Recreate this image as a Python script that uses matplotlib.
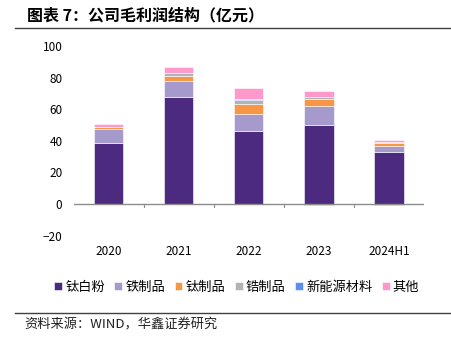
import numpy as np
import matplotlib
matplotlib.use('Agg')
import matplotlib.pyplot as plt

plt.rcParams['font.family'] = ['Noto Sans CJK SC', 'DejaVu Sans']
plt.rcParams['axes.unicode_minus'] = True

# data (亿元)
years = ['2020', '2021', '2022', '2023', '2024H1']
tio2 = [38.6, 67.5, 46.0, 50.0, 32.9]
iron = [8.9, 10.1, 11.0, 12.2, 4.0]
ti_prod = [1.0, 3.2, 6.1, 4.4, 1.7]
zr_prod = [0.3, 1.9, 2.7, 1.3, 0.8]
new_energy = [0.0, 0.0, 0.7, -0.8, -0.6]
other = [1.6, 4.2, 6.7, 3.8, 0.8]

series = [
    ('钛白粉', tio2, '#4B2A7F'),
    ('铁制品', iron, '#A699CC'),
    ('钛制品', ti_prod, '#F79646'),
    ('锆制品', zr_prod, '#B3B3B3'),
    ('新能源材料', new_energy, '#5B8FF0'),
    ('其他', other, '#FF99CC'),
]

fig = plt.figure(figsize=(4.51, 3.40), dpi=100)
ax = fig.add_axes([0.163, 0.307, 0.777, 0.558])

x = np.arange(len(years))
pos_bottom = np.zeros(len(years))
neg_bottom = np.zeros(len(years))
for name, vals, color in series:
    v = np.array(vals, dtype=float)
    bottom = np.where(v >= 0, pos_bottom, neg_bottom)
    ax.bar(x, v, width=0.42, bottom=bottom, color=color, label=name,
           edgecolor='white', linewidth=0.4, zorder=2)
    pos_bottom += np.where(v >= 0, v, 0)
    neg_bottom += np.where(v < 0, v, 0)

ax.set_xlim(-0.5, len(years) - 0.5)
ax.set_ylim(-20, 100)
ax.set_yticks(np.arange(-20, 101, 20))
ax.set_xticks(x)
ax.set_xticklabels(years)
ax.tick_params(axis='both', length=0, labelsize=8.5, colors='black')
ax.tick_params(axis='y', pad=8)
ax.tick_params(axis='x', pad=7)
for s in ax.spines.values():
    s.set_visible(False)

# zero line with category separators
ax.axhline(0, color='#8C8C8C', linewidth=1.0, zorder=3)
for b in np.arange(0.5, len(years) - 1, 1.0):
    ax.plot([b, b], [0, -2.0], color='#8C8C8C', linewidth=0.8, zorder=3)

# title and rules
fig.text(0.06, 0.955, '图表 7：公司毛利润结构（亿元）', fontsize=11.5,
         fontweight='bold', ha='left', va='center')
fig.add_artist(plt.Line2D([0.033, 1.0], [0.918, 0.918], color='#404040',
                          linewidth=1.0, transform=fig.transFigure))
fig.add_artist(plt.Line2D([0.033, 1.0], [0.079, 0.079], color='#404040',
                          linewidth=1.0, transform=fig.transFigure))
fig.text(0.055, 0.045, '资料来源：WIND，华鑫证券研究', fontsize=9.5,
         ha='left', va='center', color='#222222')

fig.legend(loc='center', bbox_to_anchor=(0.525, 0.155), ncol=6, frameon=False,
           fontsize=9.5, handlelength=0.6, handleheight=0.6, handletextpad=0.25,
           columnspacing=0.7, borderaxespad=0)

fig.savefig('out.png', dpi=100)
